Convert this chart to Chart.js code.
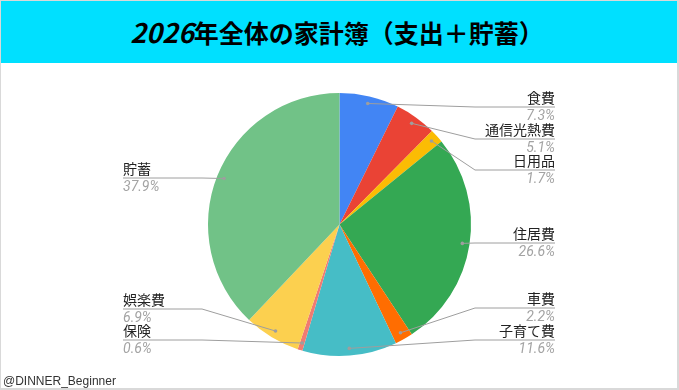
<!DOCTYPE html>
<html>
<head>
<meta charset="utf-8">
<script src="https://cdn.jsdelivr.net/npm/chart.js@4/dist/chart.umd.min.js"></script>
<style>
  html, body { margin: 0; padding: 0; background: #fff; }
  #wrap {
    position: relative; width: 679px; height: 390px; overflow: hidden;
    box-sizing: border-box; border: 1px solid #d9d9d9; border-right-width: 2px; border-bottom-width: 2px;
    font-family: "Noto Sans CJK JP", Roboto, sans-serif;
  }
  #title {
    position: absolute; left: 0; top: 0; width: 676px; height: 62px;
    background: #00e0ff; color: #000;
    font: bold 25px "Noto Sans CJK JP", sans-serif;
    line-height: 62px; text-align: center; padding-right: 4px; box-sizing: border-box;
  }
  #title i { font-family: "Liberation Sans Narrow", "Noto Sans CJK JP", sans-serif; font-size: 27px; }
  #chart { position: absolute; left: -1px; top: -1px; }
  #credit {
    position: absolute; left: 2px; top: 373px;
    font: 12px "Liberation Sans", Arial, sans-serif; color: #333;
  }
</style>
</head>
<body>
<div id="wrap">
  <canvas id="chart" width="679" height="390"></canvas>
  <div id="title"><i>2026</i>年全体の家計簿（支出＋貯蓄）</div>
  <div id="credit">@DINNER_Beginner</div>
</div>
<script>
const categories = ["食費", "通信光熱費", "日用品", "住居費", "車費", "子育て費", "保険", "娯楽費", "貯蓄"];
const shares = [7.3, 5.1, 1.7, 26.6, 2.2, 11.6, 0.6, 6.9, 37.9];
const sliceColors = ["#4285f4", "#ea4335", "#fbbc04", "#34a853", "#ff6d01", "#46bdc6", "#f07b72", "#fcd04f", "#71c287"];

// label placement: side and y of the underline
const labelSide = ["r", "r", "r", "r", "r", "r", "l", "l", "l"];
const labelLineY = [107, 139, 170, 243, 308, 340, 340, 309, 178];

const calloutLabels = {
    id: "calloutLabels",
    afterDatasetsDraw(chart) {
        const ctx = chart.ctx;
        const arcs = chart.getDatasetMeta(0).data;
        ctx.save();
        arcs.forEach((arc, i) => {
            const mid = (arc.startAngle + arc.endAngle) / 2;
            const r = arc.outerRadius * 0.945;
            const px = arc.x + Math.cos(mid) * r;
            const py = arc.y + Math.sin(mid) * r;
            const right = labelSide[i] === "r";
            const kneeX = right ? 475 : 202;
            const endX = right ? 555 : 123;
            const ly = labelLineY[i];

            ctx.strokeStyle = "#9e9e9e";
            ctx.lineWidth = 1;
            ctx.beginPath();
            ctx.moveTo(px, py);
            ctx.lineTo(kneeX, ly);
            ctx.lineTo(endX, ly);
            ctx.stroke();

            ctx.fillStyle = "#9e9e9e";
            ctx.beginPath();
            ctx.arc(px, py, 1.8, 0, Math.PI * 2);
            ctx.fill();

            ctx.textAlign = right ? "right" : "left";
            ctx.textBaseline = "middle";
            ctx.fillStyle = "#222";
            ctx.font = '14px "Noto Sans CJK JP", sans-serif';
            ctx.fillText(categories[i], endX, ly - 9);
            ctx.fillStyle = "#a3a3a3";
            ctx.font = 'italic 14px Roboto, sans-serif';
            ctx.fillText(shares[i].toFixed(1) + "%", endX, ly + 9);
        });
        ctx.restore();
    }
};

new Chart(document.getElementById("chart"), {
    type: "pie",
    data: {
        labels: categories,
        datasets: [{
            data: shares,
            backgroundColor: sliceColors,
            borderWidth: 0,
            hoverOffset: 0,
        }],
    },
    options: {
        responsive: false,
        animation: false,
        layout: { padding: { left: 208, right: 208, top: 93, bottom: 34 } },
        plugins: {
            legend: { display: false },
            tooltip: { enabled: false },
        },
    },
    plugins: [calloutLabels],
});
</script>
</body>
</html>
